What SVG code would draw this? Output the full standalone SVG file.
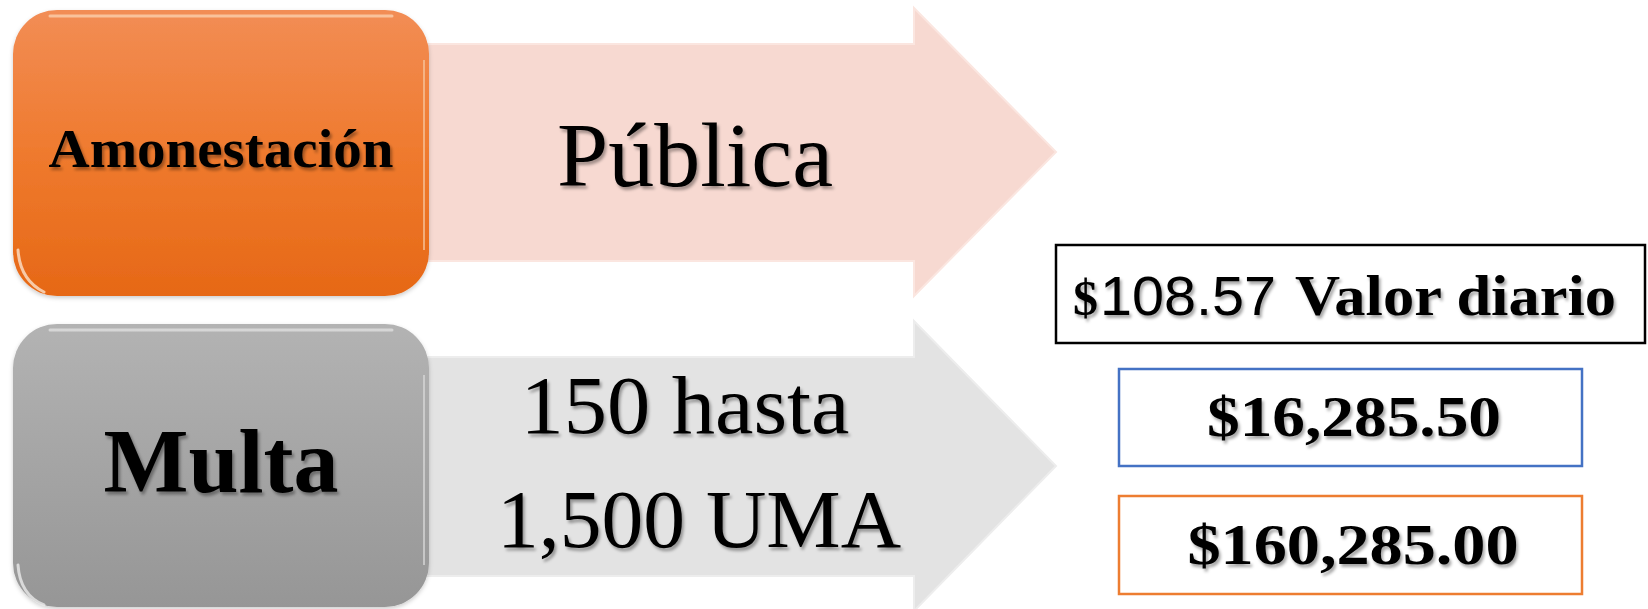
<svg xmlns="http://www.w3.org/2000/svg" width="1648" height="609" viewBox="0 0 1648 609">
<defs>
<linearGradient id="gOrange" x1="0" y1="0" x2="0" y2="1">
<stop offset="0" stop-color="#F28D55"/>
<stop offset="0.5" stop-color="#EF7A2E"/>
<stop offset="1" stop-color="#E66816"/>
</linearGradient>
<linearGradient id="gGray" x1="0" y1="0" x2="0" y2="1">
<stop offset="0" stop-color="#B3B3B3"/>
<stop offset="1" stop-color="#969696"/>
</linearGradient>
<filter id="ts" x="-10%" y="-20%" width="130%" height="150%">
<feDropShadow dx="2" dy="3" stdDeviation="1.5" flood-color="#000" flood-opacity="0.35"/>
</filter>
<filter id="bs" x="-5%" y="-5%" width="110%" height="115%">
<feDropShadow dx="0" dy="2" stdDeviation="2" flood-color="#000" flood-opacity="0.2"/>
</filter>
</defs>
<style>
.serif{font-family:"Liberation Serif","DejaVu Serif",serif;fill:#000}
.b{font-weight:bold}
.sans{font-family:"Liberation Sans","DejaVu Sans",sans-serif;fill:#000}
.box{fill:#fff;stroke-width:2.5}
</style>
<rect width="1648" height="609" fill="#fff"/>

<g id="connectors">
<path id="arrow-publica" d="M420,44 H914 V8 L1056,152 L914,296 V261 H420 Z" fill="#F7D9D1" stroke="#FBE6E0" stroke-width="2"/>
<path id="arrow-multa" d="M420,357 H914 V321 L1056,466 L914,611 V576 H420 Z" fill="#E3E3E3" stroke="#EDEDED" stroke-width="2"/>
</g>

<g id="node-amonestacion">
<rect x="13" y="10" width="416" height="286" rx="44" fill="url(#gOrange)" filter="url(#bs)"/>
<path d="M50,16 H392" stroke="#FBD0AE" stroke-width="3" stroke-linecap="round" opacity="0.8"/>
<path d="M18,250 Q20,280 44,292" stroke="#FBE2CC" stroke-width="3" fill="none" stroke-linecap="round" opacity="0.8"/>
<path d="M424,60 V250" stroke="#F8C7A0" stroke-width="2" opacity="0.7"/>
<text x="221" y="167" class="serif b" font-size="55" text-anchor="middle" textLength="345" lengthAdjust="spacingAndGlyphs" filter="url(#ts)">Amonestación</text>
</g>

<g id="node-publica">
<text x="695" y="186" class="serif" font-size="92" text-anchor="middle" filter="url(#ts)">Pública</text>
</g>

<g id="node-multa">
<rect x="13" y="324" width="416" height="283" rx="44" fill="url(#gGray)" filter="url(#bs)"/>
<path d="M50,330 H392" stroke="#E0E0E0" stroke-width="3" stroke-linecap="round" opacity="0.8"/>
<path d="M18,565 Q20,595 44,605" stroke="#EAEAEA" stroke-width="3" fill="none" stroke-linecap="round" opacity="0.8"/>
<path d="M424,375 V565" stroke="#DADADA" stroke-width="2" opacity="0.7"/>
<text x="221" y="492" class="serif b" font-size="90" text-anchor="middle" filter="url(#ts)">Multa</text>
</g>

<g id="node-uma">
<text x="685" y="433" class="serif" font-size="82" text-anchor="middle" textLength="329" lengthAdjust="spacingAndGlyphs" filter="url(#ts)">150 hasta</text>
<text x="699" y="547" class="serif" font-size="82" text-anchor="middle" textLength="404" lengthAdjust="spacingAndGlyphs" filter="url(#ts)">1,500 UMA</text>
</g>

<g id="node-valor">
<rect x="1056" y="245" width="589" height="98" class="box" stroke="#000"/>
<text y="315" filter="url(#ts)"><tspan x="1073" class="serif b" font-size="50">$</tspan><tspan x="1100" class="sans" font-size="56" textLength="176" lengthAdjust="spacingAndGlyphs">108.57</tspan><tspan x="1295" class="serif b" font-size="56" textLength="321" lengthAdjust="spacingAndGlyphs">Valor diario</tspan></text>
</g>

<g id="node-min">
<rect x="1119" y="369" width="463" height="97" class="box" stroke="#4472C4"/>
<text x="1354" y="436" class="serif b" font-size="56" text-anchor="middle" textLength="294" lengthAdjust="spacingAndGlyphs" filter="url(#ts)">$16,285.50</text>
</g>

<g id="node-max">
<rect x="1119" y="496" width="463" height="98" class="box" stroke="#ED7D31"/>
<text x="1353" y="564" class="serif b" font-size="56" text-anchor="middle" textLength="331" lengthAdjust="spacingAndGlyphs" filter="url(#ts)">$160,285.00</text>
</g>
</svg>
